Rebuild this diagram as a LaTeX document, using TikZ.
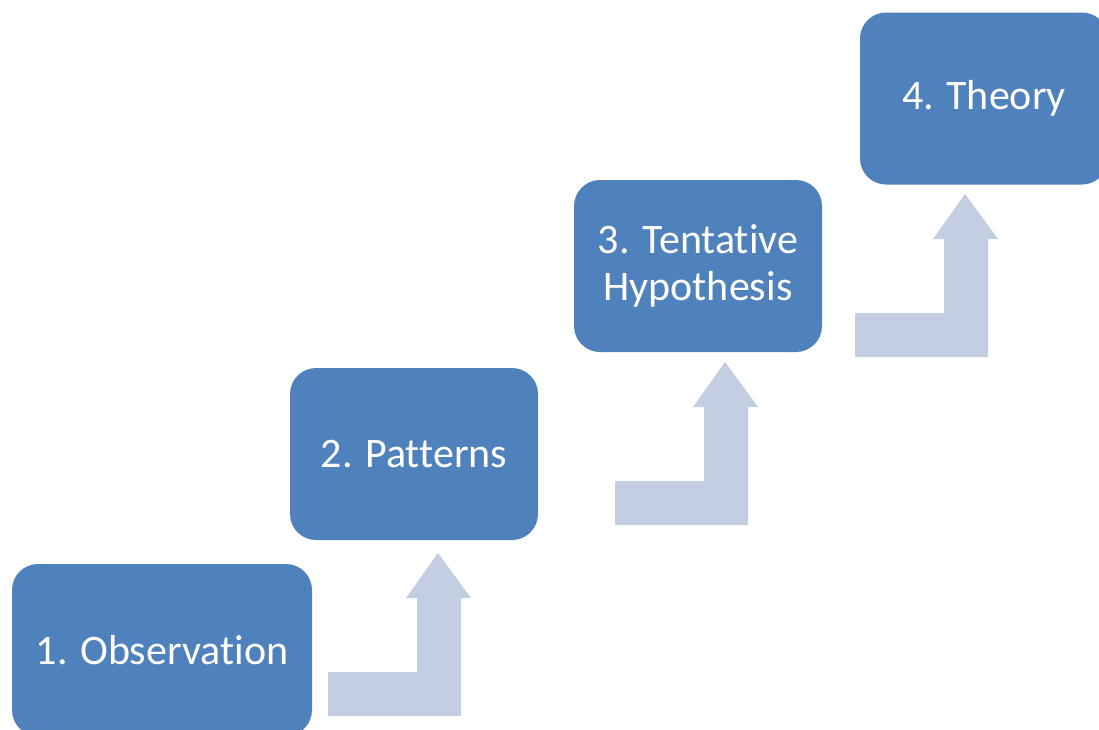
\documentclass[tikz,border=0pt]{standalone}
\usepackage{fontspec}
\setmainfont[Ligatures=NoCommon]{Carlito}
\usepackage{tikz}
\definecolor{stepblue}{RGB}{79,129,189}
\definecolor{arrowgrey}{RGB}{196,206,226}
\tikzset{stepbox/.style={fill=stepblue, rounded corners=26pt, text=white,
           minimum height=172pt, align=center, inner sep=0pt,
           font=\fontsize{42}{47}\selectfont},
         bentup/.pic={\fill[arrowgrey] (0,0) -- (133,0) -- (133,-118) -- (143,-118)
           -- (110,-163) -- (78,-118) -- (89,-118) -- (89,-44) -- (0,-44) -- cycle;}}

\begin{document}
\begin{tikzpicture}[x=1pt, y=-1pt]
	  \useasboundingbox (0,0) rectangle (1099,729);
	  \node[stepbox, minimum width=300pt] (obs) at (162,650) {1. Observation};
	  \node[stepbox, minimum width=248pt] (pat) at (414,454) {2. Patterns};
	  \node[stepbox, minimum width=248pt] (hyp) at (698,266) {3. Tentative\\Hypothesis};
	  \node[stepbox, minimum width=248pt] (thy) at (984,98.5) {4. Theory};
	  \pic at (328,716) {bentup};
	  \pic at (615,525) {bentup};
	  \pic at (855,357) {bentup};
	\end{tikzpicture}
\end{document}
